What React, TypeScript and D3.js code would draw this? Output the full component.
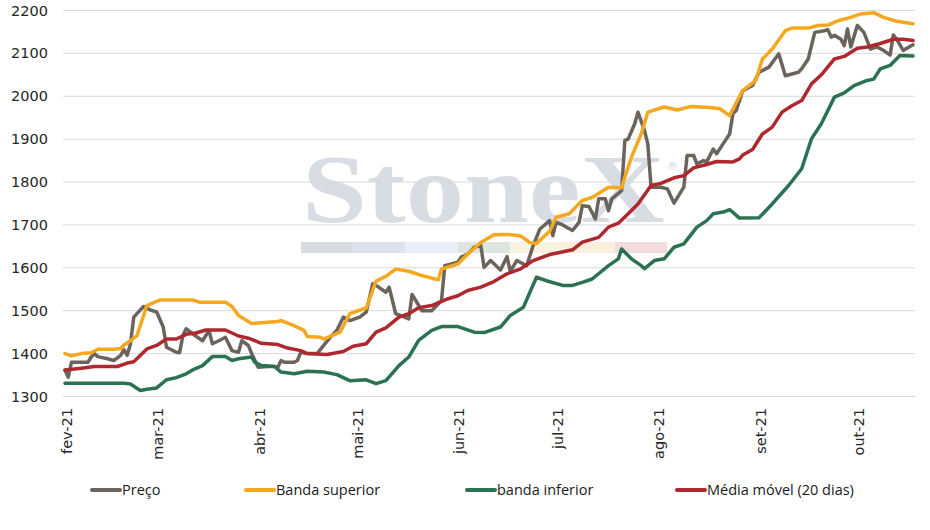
import * as d3 from 'd3'
import React from 'react'

// dias contados a partir de 1 de fevereiro de 2021
const inicio = new Date(2021, 1, 1)
const diaFinal = 259

const rotulosMeses = ['fev-21', 'mar-21', 'abr-21', 'mai-21', 'jun-21', 'jul-21', 'ago-21', 'set-21', 'out-21']
const ticksY = [1300, 1400, 1500, 1600, 1700, 1800, 1900, 2000, 2100, 2200]

const diasPreco = [0, 1, 2, 7, 8, 9, 10, 13, 15, 17, 18, 19, 20, 21, 24, 26, 28, 30, 31, 34, 35, 36, 37, 39, 42, 44, 45, 47, 49, 51, 53, 54, 56, 57, 59, 62, 64, 65, 66, 67, 70, 71, 72, 74, 77, 79, 81, 83, 85, 87, 90, 92, 94, 95, 98, 99, 101, 105, 106, 109, 112, 115, 116, 120, 121, 123, 125, 127, 128, 130, 133, 135, 136, 138, 141, 143, 145, 148, 149, 150, 152, 155, 157, 158, 160, 162, 163, 165, 166, 167, 170, 171, 172, 174, 175, 177, 178, 179, 182, 184, 186, 189, 190, 192, 193, 195, 196, 198, 199, 201, 203, 204, 205, 207, 210, 212, 215, 218, 220, 224, 225, 227, 229, 232, 233, 234, 235, 237, 238, 239, 240, 242, 244, 246, 248, 250, 252, 253, 254, 256, 259]
const preco = [1361, 1345, 1380, 1380, 1392, 1400, 1393, 1388, 1384, 1396, 1409, 1396, 1423, 1485, 1510, 1502, 1497, 1462, 1415, 1403, 1402, 1442, 1458, 1446, 1430, 1454, 1423, 1430, 1438, 1407, 1403, 1430, 1419, 1400, 1368, 1370, 1370, 1368, 1384, 1380, 1380, 1384, 1403, 1400, 1400, 1419, 1438, 1454, 1485, 1477, 1485, 1497, 1563, 1559, 1543, 1555, 1493, 1481, 1538, 1500, 1500, 1524, 1605, 1613, 1625, 1632, 1648, 1652, 1601, 1617, 1595, 1626, 1592, 1617, 1605, 1652, 1690, 1710, 1675, 1706, 1700, 1687, 1706, 1745, 1743, 1714, 1761, 1761, 1733, 1761, 1780, 1897, 1900, 1936, 1963, 1920, 1889, 1788, 1788, 1784, 1751, 1788, 1862, 1862, 1842, 1850, 1847, 1877, 1866, 1889, 1912, 1960, 1967, 2013, 2025, 2056, 2068, 2099, 2048, 2056, 2064, 2087, 2149, 2153, 2155, 2138, 2142, 2133, 2118, 2157, 2115, 2165, 2149, 2110, 2115, 2107, 2096, 2143, 2133, 2107, 2120]

const diasSup = [0, 2, 5, 8, 10, 15, 17, 18, 20, 22, 25, 29, 39, 41, 49, 51, 53, 57, 60, 65, 66, 70, 73, 74, 78, 79, 84, 87, 91, 92, 95, 98, 101, 105, 109, 114, 115, 120, 123, 127, 131, 135, 139, 142, 144, 148, 150, 154, 158, 161, 166, 170, 171, 173, 176, 178, 183, 187, 191, 197, 200, 203, 205, 207, 211, 213, 216, 220, 222, 227, 230, 233, 236, 240, 243, 247, 250, 254, 259]
const bandaSup = [1400, 1395, 1400, 1402, 1410, 1410, 1412, 1420, 1430, 1442, 1512, 1525, 1525, 1520, 1520, 1510, 1489, 1470, 1472, 1475, 1477, 1465, 1454, 1440, 1438, 1434, 1450, 1493, 1504, 1506, 1569, 1580, 1597, 1592, 1582, 1572, 1597, 1609, 1632, 1659, 1677, 1678, 1675, 1659, 1657, 1685, 1718, 1726, 1757, 1764, 1788, 1787, 1811, 1858, 1912, 1963, 1975, 1968, 1976, 1974, 1971, 1955, 1985, 2013, 2037, 2087, 2110, 2153, 2159, 2159, 2165, 2166, 2176, 2184, 2192, 2195, 2184, 2175, 2169]

const diasInf = [0, 18, 20, 23, 25, 28, 31, 34, 37, 39, 42, 45, 49, 51, 53, 57, 58, 60, 64, 66, 70, 74, 79, 83, 87, 92, 95, 98, 102, 105, 108, 112, 115, 120, 125, 128, 133, 136, 140, 144, 147, 152, 155, 158, 161, 166, 169, 170, 173, 176, 177, 180, 183, 186, 189, 193, 196, 198, 201, 203, 206, 212, 216, 221, 225, 228, 231, 235, 238, 241, 245, 247, 249, 252, 255, 259]
const bandaInf = [1331, 1331, 1329, 1314, 1317, 1320, 1339, 1344, 1353, 1362, 1372, 1393, 1393, 1384, 1388, 1392, 1380, 1372, 1370, 1357, 1353, 1359, 1357, 1351, 1337, 1339, 1330, 1337, 1372, 1392, 1431, 1454, 1463, 1463, 1450, 1449, 1462, 1489, 1508, 1578, 1570, 1559, 1559, 1566, 1574, 1605, 1621, 1644, 1621, 1605, 1598, 1617, 1621, 1648, 1656, 1695, 1710, 1726, 1730, 1736, 1716, 1717, 1749, 1792, 1831, 1901, 1936, 1998, 2008, 2025, 2037, 2040, 2064, 2072, 2095, 2094]

const diasMedia = [0, 5, 9, 16, 19, 21, 25, 28, 31, 34, 37, 40, 43, 49, 53, 56, 60, 65, 68, 72, 74, 80, 85, 88, 92, 95, 98, 102, 105, 108, 112, 117, 120, 123, 127, 131, 135, 139, 143, 148, 150, 155, 158, 163, 166, 169, 172, 175, 179, 182, 186, 189, 192, 196, 199, 204, 206, 207, 210, 213, 216, 219, 222, 225, 228, 231, 235, 238, 242, 245, 249, 253, 256, 259]
const media = [1362, 1366, 1370, 1370, 1378, 1381, 1411, 1419, 1434, 1434, 1445, 1448, 1455, 1455, 1441, 1436, 1424, 1421, 1413, 1407, 1400, 1398, 1405, 1417, 1423, 1450, 1460, 1485, 1493, 1507, 1512, 1528, 1535, 1547, 1555, 1568, 1586, 1597, 1617, 1631, 1634, 1642, 1660, 1671, 1695, 1704, 1726, 1749, 1792, 1797, 1810, 1815, 1833, 1841, 1848, 1847, 1854, 1863, 1876, 1912, 1928, 1963, 1978, 1990, 2029, 2050, 2087, 2093, 2112, 2115, 2123, 2133, 2133, 2130]

const series = [
  { nome: 'Preço', dias: diasPreco, valores: preco, cor: '#6b645c', legX: 92 },
  { nome: 'Banda superior', dias: diasSup, valores: bandaSup, cor: '#f5a81f', legX: 246 },
  { nome: 'banda inferior', dias: diasInf, valores: bandaInf, cor: '#2a7251', legX: 467 },
  { nome: 'Média móvel (20 dias)', dias: diasMedia, valores: media, cor: '#ae282e', legX: 677 },
]

const faixaMarca = ['#d6dbe2', '#dce3ec', '#e9eff6', '#dde7df', '#f7f3df', '#faeedc', '#f2dcdc']

const App = () => {
  const width = 930
  const height = 530
  const left = 63
  const right = 915

  const x = d3
    .scaleTime()
    .domain([inicio, d3.timeDay.offset(inicio, diaFinal)])
    .range([65, 913])
  const y = d3.scaleLinear().domain([1300, 2200]).range([396.5, 10.5])

  const xDia = (d: number) => x(d3.timeDay.offset(inicio, d))
  const meses = d3.range(rotulosMeses.length).map((i) => new Date(2021, 1 + i, 1))

  const caminho = (dias: number[], valores: number[]) =>
    d3
      .line<number>()
      .x((d, i) => xDia(dias[i]))
      .y((d) => y(d))(valores) || ''

  return (
    <svg width={width} height={height} style={{ position: 'absolute', left: 0, top: 0, background: '#fff' }}>
      {/* marca d'agua */}
      <g>
        <g transform="translate(302,222) scale(1.19,1)">
          <text x={0} y={0} fontFamily="Liberation Serif" fontWeight="bold" fontSize={98} fill="#d8dde3">
            StoneX
          </text>
        </g>
        <text x={667} y={170} fontFamily="DejaVu Sans" fontSize={11} fill="#d2d8de">
          ®
        </text>
        {faixaMarca.map((c, i) => (
          <rect key={i} x={301 + i * 52.3} y={242} width={52.3} height={11} fill={c} />
        ))}
      </g>

      {/* grade horizontal */}
      {ticksY.map((t) => (
        <line key={t} x1={left} x2={right} y1={y(t)} y2={y(t)} stroke="#d9d9d9" strokeWidth={1} />
      ))}

      {/* eixo y */}
      {ticksY.map((t) => (
        <text
          key={'l' + t}
          x={48}
          y={y(t)}
          dy="0.35em"
          textAnchor="end"
          fontFamily="DejaVu Sans"
          fontSize={14.5}
          fill="#262626"
        >
          {t}
        </text>
      ))}

      {/* eixo x */}
      {meses.map((m, i) => (
        <text
          key={rotulosMeses[i]}
          transform={`translate(${x(m) + 1.5},408) rotate(-90)`}
          dy="0.35em"
          textAnchor="end"
          fontFamily="DejaVu Sans"
          fontSize={14.5}
          fill="#262626"
        >
          {rotulosMeses[i]}
        </text>
      ))}

      {/* series */}
      {series.map((s) => (
        <path
          key={s.nome}
          d={caminho(s.dias, s.valores)}
          fill="none"
          stroke={s.cor}
          strokeWidth={3.5}
          strokeLinejoin="round"
          strokeLinecap="round"
        />
      ))}

      {/* legenda */}
      {series.map((s) => (
        <g key={'leg' + s.nome}>
          <line x1={s.legX} x2={s.legX + 28} y1={490} y2={490} stroke={s.cor} strokeWidth={4} strokeLinecap="round" />
          <text x={s.legX + 30} y={490} dy="0.35em" fontFamily="Open Sans" fontSize={14.5} fill="#1a1a1a">
            {s.nome}
          </text>
        </g>
      ))}
    </svg>
  )
}

export default App
